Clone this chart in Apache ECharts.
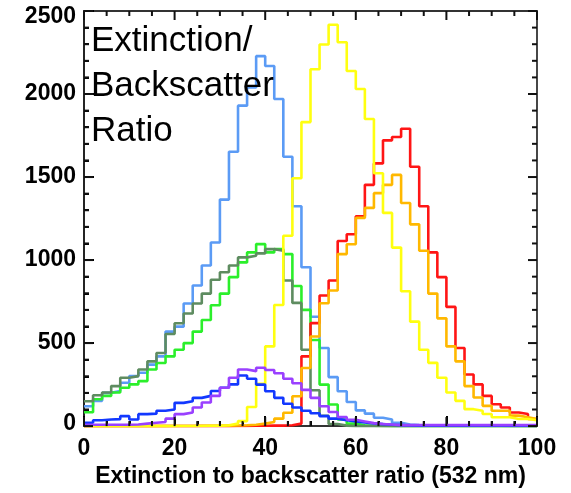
<!DOCTYPE html>
<html>
<head>
<meta charset="utf-8">
<script src="https://cdn.jsdelivr.net/npm/echarts@6/dist/echarts.min.js"></script>
<style>
html, body { margin: 0; padding: 0; background: #fff; }
#main { width: 571px; height: 493px; }
</style>
</head>
<body>
<div id="main"></div>
<script>
// histogram bins are 2 units wide, from 0 to 100
var binWidth = 2;
var xTicks = [0, 20, 40, 60, 80, 100];
var yTicks = [0, 500, 1000, 1500, 2000, 2500];
var xMinorPerMajor = 4;
var yMinorPerMajor = 5;

// counts per bin (50 bins)
var lightBlue = [120, 152, 200, 211, 261, 301, 321, 370, 420, 569,
    599, 738, 847, 967, 1106, 1364, 1652, 1930, 2039, 2228,
    2169, 1970, 1622, 1324, 957, 659, 470, 295, 210, 145,
    95, 75, 50, 40, 20, 10, 6, 5, 4, 4,
    3, 3, 2, 2, 2, 2, 1, 1, 1, 1];
var green = [83, 162, 182, 202, 231, 251, 271, 341, 380, 420,
    460, 500, 569, 639, 728, 798, 897, 986, 1046, 1096,
    1046, 1066, 1036, 844, 700, 519, 250, 130, 40, 15,
    5, 2, 1, 0, 0, 0, 0, 0, 0, 0,
    0, 0, 0, 0, 0, 0, 0, 0, 0, 0];
var darkGreen = [150, 186, 202, 241, 291, 301, 341, 390, 440, 555,
    619, 678, 738, 798, 881, 927, 967, 1016, 1026, 1040,
    1066, 1056, 877, 742, 460, 216, 62, 13, 3, 0,
    0, 0, 0, 0, 0, 0, 0, 0, 0, 0,
    0, 0, 0, 0, 0, 0, 0, 0, 0, 0];
var red = [0, 0, 0, 0, 0, 0, 0, 0, 0, 0,
    0, 0, 0, 0, 0, 0, 1, 1, 2, 2,
    3, 3, 5, 15, 420, 620, 787, 877, 1115, 1155,
    1264, 1453, 1582, 1721, 1741, 1791, 1562, 1324, 1046, 897,
    718, 470, 311, 251, 182, 132, 112, 82, 73, 43];
var orange = [0, 0, 0, 0, 0, 0, 0, 0, 0, 1,
    1, 1, 2, 2, 2, 3, 4, 5, 8, 15,
    25, 45, 80, 180, 350, 540, 740, 817, 1036, 1095,
    1254, 1314, 1403, 1453, 1513, 1344, 1215, 1056, 798, 649,
    480, 390, 241, 172, 122, 92, 92, 63, 53, 43];
var yellow = [0, 0, 0, 0, 0, 0, 0, 0, 0, 0,
    1, 1, 1, 2, 2, 5, 15, 30, 115, 255,
    480, 729, 1146, 1493, 1831, 2149, 2298, 2417, 2312, 2139,
    2030, 1850, 1523, 1284, 1075, 812, 629, 460, 381, 291,
    202, 152, 102, 92, 73, 53, 53, 43, 43, 35];
var blue = [20, 35, 40, 42, 60, 40, 72, 75, 92, 100,
    140, 150, 170, 182, 211, 231, 251, 305, 285, 250,
    210, 170, 135, 112, 92, 77, 60, 45, 35, 28,
    22, 16, 12, 8, 6, 4, 2, 2, 2, 2,
    2, 2, 2, 2, 2, 2, 2, 2, 2, 2];
var purple = [8, 8, 8, 8, 8, 10, 15, 20, 25, 45,
    72, 82, 112, 142, 182, 231, 291, 341, 331, 351,
    338, 318, 285, 258, 218, 170, 120, 85, 55, 38,
    28, 18, 13, 10, 6, 6, 6, 6, 6, 6,
    6, 6, 6, 6, 6, 6, 6, 6, 6, 6];

var dom = document.getElementById('main');
var myChart = echarts.init(dom);

// left bin edges + closing point so step 'end' draws each bin flat
function toSteps(counts) {
    var pts = [];
    for (var i = 0; i < counts.length; i++) {
        pts.push([i * binWidth, counts[i]]);
    }
    pts.push([counts.length * binWidth, counts[counts.length - 1]]);
    return pts;
}

function histSeries(name, counts, color) {
    return {
        name: name,
        type: 'line',
        step: 'end',
        showSymbol: false,
        z: 3,
        data: toSteps(counts),
        lineStyle: {color: color, width: 2.6},
        itemStyle: {color: color}
    };
}

// tick list: [value, 0 = x tick / 1 = y tick, 1 = major / 0 = minor]
function tickItems(ticks, nMinor, which) {
    var out = [];
    for (var i = 0; i < ticks.length; i++) {
        out.push([ticks[i], which, 1]);
        if (i < ticks.length - 1) {
            var step = (ticks[i + 1] - ticks[i]) / nMinor;
            for (var j = 1; j < nMinor; j++) out.push([ticks[i] + j * step, which, 0]);
        }
    }
    return out;
}
var tickData = tickItems(xTicks, xMinorPerMajor, 0).concat(tickItems(yTicks, yMinorPerMajor, 1));

var xMin = xTicks[0], xMax = xTicks[xTicks.length - 1];
var yMin = yTicks[0], yMax = yTicks[yTicks.length - 1];

// inward ticks on all four sides of the frame, like IDL draws them
function renderTick(params, api) {
    var v = api.value(0), isY = api.value(1), major = api.value(2);
    var len = major ? 9 : 5;
    var style = {stroke: '#111', lineWidth: 2};
    var a, b;
    if (!isY) {
        a = api.coord([v, yMin]);
        b = api.coord([v, yMax]);
        return {type: 'group', children: [
            {type: 'line', shape: {x1: a[0], y1: a[1], x2: a[0], y2: a[1] - len}, style: style},
            {type: 'line', shape: {x1: b[0], y1: b[1], x2: b[0], y2: b[1] + len}, style: style}
        ]};
    }
    a = api.coord([xMin, v]);
    b = api.coord([xMax, v]);
    return {type: 'group', children: [
        {type: 'line', shape: {x1: a[0], y1: a[1], x2: a[0] + len, y2: a[1]}, style: style},
        {type: 'line', shape: {x1: b[0], y1: b[1], x2: b[0] - len, y2: b[1]}, style: style}
    ]};
}

var boldFont = {
    color: '#000',
    fontFamily: 'Liberation Sans',
    fontWeight: 'bold',
    fontSize: 23
};

var option = {
    animation: false,
    grid: {left: 84, right: 34, top: 11, bottom: 62, show: true, borderColor: '#333', borderWidth: 1.8, backgroundColor: 'transparent'},
    xAxis: {
        type: 'value',
        min: xMin,
        max: xMax,
        interval: 20,
        name: 'Extinction to backscatter ratio (532 nm)',
        nameLocation: 'middle',
        nameGap: 37,
        nameTextStyle: boldFont,
        axisLine: {show: true, onZero: false, lineStyle: {color: '#333', width: 1.8}},
        axisTick: {show: true, inside: true, length: 10, lineStyle: {color: '#000', width: 2}},
        minorTick: {show: true, splitNumber: xMinorPerMajor, length: 5, lineStyle: {color: '#000', width: 2}},
        splitLine: {show: false},
        axisLabel: {margin: 11, color: '#000', fontFamily: 'Liberation Sans', fontWeight: 'bold', fontSize: 23}
    },
    yAxis: {
        type: 'value',
        min: yMin,
        max: yMax,
        interval: 500,
        axisLine: {show: true, onZero: false, lineStyle: {color: '#222', width: 1.8}},
        axisTick: {show: true, inside: true, length: 10, lineStyle: {color: '#000', width: 2}},
        minorTick: {show: true, splitNumber: yMinorPerMajor, length: 5, lineStyle: {color: '#000', width: 2}},
        splitLine: {show: false},
        axisLabel: {
            margin: 8, color: '#000', fontFamily: 'Liberation Sans', fontWeight: 'bold', fontSize: 23,
            formatter: function (v) {
                // IDL pushes the end labels inward
                if (v === yMin) return '{lo|' + v + '}';
                if (v === yMax) return '{hi|' + v + '}';
                return String(v);
            },
            rich: {
                lo: {fontFamily: 'Liberation Sans', fontWeight: 'bold', fontSize: 23, color: '#000', padding: [0, 0, 4, 0]},
                hi: {fontFamily: 'Liberation Sans', fontWeight: 'bold', fontSize: 23, color: '#000', padding: [12, 0, 0, 0]}
            }
        }
    },
    graphic: [{
        type: 'text',
        left: 91,
        top: 19,
        z: 100,
        style: {
            text: 'Extinction/\nBackscatter\nRatio',
            font: '35px "Liberation Sans"',
            lineHeight: 45,
            fill: '#000'
        }
    }],
    series: [
        histSeries('lightBlue', lightBlue, '#5b9bf5'),
        histSeries('green', green, '#2bef2b'),
        histSeries('darkGreen', darkGreen, '#5e8c60'),
        histSeries('red', red, '#ff1515'),
        histSeries('orange', orange, '#ffb800'),
        histSeries('yellow', yellow, '#ffff10'),
        histSeries('blue', blue, '#1238ff'),
        histSeries('purple', purple, '#9a40ff'),
        {
            name: 'ticks',
            type: 'custom',
            renderItem: renderTick,
            clip: false,
            silent: true,
            z: 10,
            data: tickData
        }
    ]
};

myChart.setOption(option);
</script>
</body>
</html>
